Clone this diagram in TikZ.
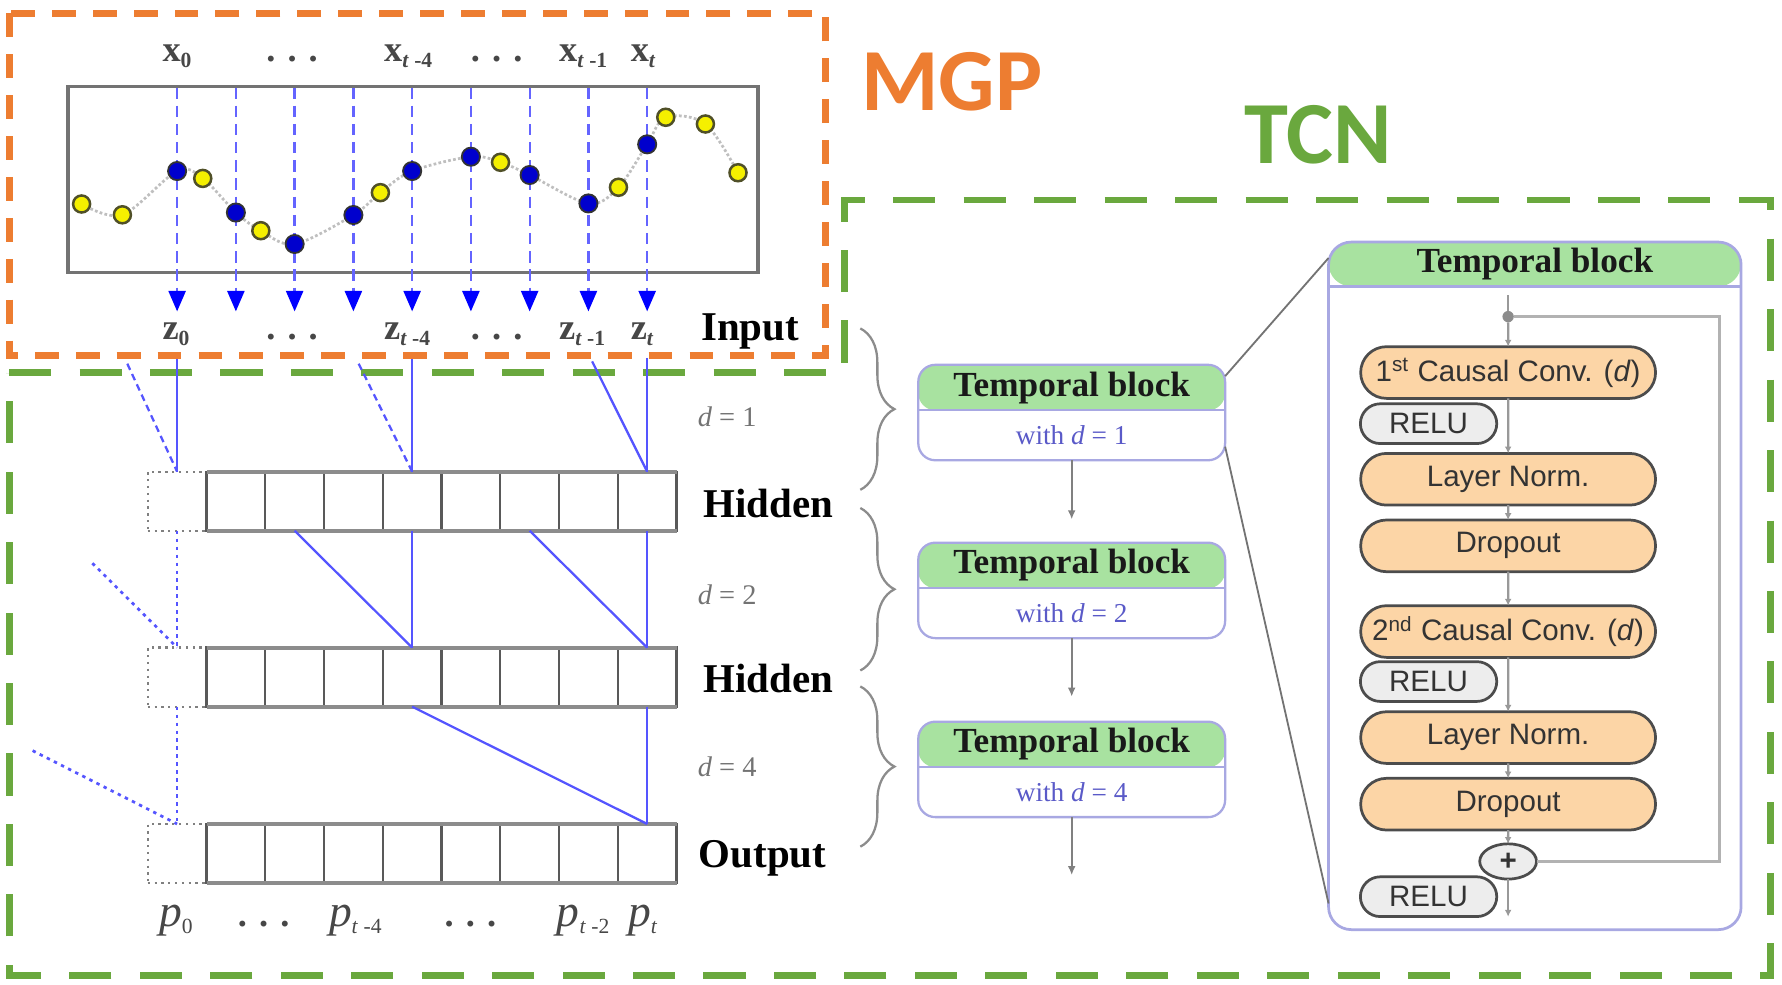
\documentclass[tikz,border=0pt]{standalone}
\usepackage{fontspec}
\setmainfont{Liberation Serif}
\newfontfamily\pillfont{Liberation Sans}
\newfontfamily\bigfont{Carlito}
\usetikzlibrary{arrows.meta,shapes.geometric,shapes.misc,decorations.pathreplacing,calc}
\definecolor{mgporange}{RGB}{237,125,49}
\definecolor{tcngreen}{RGB}{106,168,62}
\definecolor{hdrgreen}{RGB}{168,226,160}
\definecolor{blkborder}{RGB}{168,168,226}
\definecolor{pillfill}{RGB}{252,213,166}
\definecolor{subblue}{RGB}{90,90,200}
\definecolor{linkblue}{RGB}{85,85,255}
\definecolor{dashblue}{RGB}{100,100,255}
\definecolor{ptblue}{RGB}{0,0,205}
\definecolor{ptyellow}{RGB}{245,240,0}
\definecolor{ptedge}{RGB}{80,80,40}
\newcommand{\labsub}[1]{\textsubscript{\fontsize{9.5}{10}\selectfont #1}}
\begin{document}
\begin{tikzpicture}[x=0.5pt,y=-0.5pt,
  every node/.style={inner sep=0pt,outer sep=0pt},
  mgpbox/.style={draw=mgporange,line width=3pt,dash pattern=on 10.5pt off 7.5pt},
  tcnbox/.style={draw=tcngreen,line width=3pt,dash pattern=on 18.5pt off 12.5pt},
  seriesbox/.style={draw=black!55,line width=1.5pt},
  xdash/.style={draw=dashblue,line width=1pt,dash pattern=on 5pt off 3pt,
     -{Triangle[length=9pt,width=7.5pt,color=blue,fill=blue]}},
  curve/.style={draw=black!25,line width=1.2pt,densely dotted},
  ypt/.style={circle,fill=ptyellow,draw=ptedge,line width=1.1pt,minimum size=7.5pt},
  bpt/.style={circle,fill=ptblue,draw=black!80,line width=0.8pt,minimum size=8pt},
  xlab/.style={font=\fontsize{16}{18}\selectfont\bfseries,text=black!72,anchor=base west},
  dotlab/.style={font=\fontsize{16}{18}\selectfont\bfseries,text=black!72,anchor=base},
  layerlab/.style={font=\fontsize{18}{20}\selectfont\bfseries,anchor=base west},
  dlab/.style={font=\fontsize{12.5}{14}\selectfont,text=black!55,anchor=base west},
  plab/.style={font=\fontsize{20}{22}\selectfont,text=black!72,anchor=base west},
  cell/.style={draw=black!65,line width=1pt,minimum width=25.85pt,minimum height=26pt},
  dcell/.style={draw=black!50,line width=1pt,dotted,minimum width=25.85pt,minimum height=26pt},
  rowedge/.style={draw=black!45,line width=1.8pt},
  tline/.style={draw=linkblue,line width=1pt},
  tdash/.style={draw=linkblue,line width=1pt,dash pattern=on 3pt off 2pt},
  tdot/.style={draw=linkblue,line width=1.2pt,dash pattern=on 1.5pt off 2pt},
  bracestyle/.style={decorate,decoration={brace,amplitude=15pt},draw=black!45,line width=1pt},
  tblock/.style={draw=blkborder,line width=1pt,fill=white,rounded corners=7.5pt,
     minimum width=135pt,minimum height=42pt,
     path picture={\fill[hdrgreen] (path picture bounding box.north west) rectangle ([yshift=-20pt]path picture bounding box.north east);}},
  bigblock/.style={draw=blkborder,line width=1.2pt,fill=white,rounded corners=10pt,
     minimum width=181.5pt,minimum height=302.5pt,
     path picture={\fill[hdrgreen] (path picture bounding box.north west) rectangle ([yshift=-19.5pt]path picture bounding box.north east);}},
  hdrtext/.style={font=\fontsize{15.5}{17}\selectfont\bfseries,text=black!90},
  subtext/.style={font=\fontsize{12}{14}\selectfont,text=subblue},
  blockarrow/.style={draw=black!50,line width=1pt,-{Latex[length=4pt,width=3.5pt]}},
  zoomline/.style={draw=black!55,line width=0.8pt},
  pill/.style={rounded rectangle,draw=black!70,line width=1.2pt,fill=pillfill,
     minimum width=129.75pt,minimum height=22.75pt,
     font=\pillfont\fontsize{13}{15}\selectfont,text=black!80},
  relu/.style={rounded rectangle,draw=black!70,line width=1.2pt,fill=black!7,
     minimum width=60pt,minimum height=17.5pt,
     font=\pillfont\fontsize{13}{15}\selectfont,text=black!80},
  flow/.style={draw=black!40,line width=1pt,-{Latex[length=3pt,width=3pt]}},
  plainflow/.style={draw=black!40,line width=1pt},
  skipline/.style={draw=black!30,line width=1.5pt}
]
\useasboundingbox (0,0) rectangle (1568,866);

% TCN dashed frame
\draw[tcnbox] (8,328) -- (743,328) -- (743,176) -- (1558,176) -- (1558,858) -- (8,858) -- cycle;

% MGP series box
\draw[seriesbox] (60,76) rectangle (667,240);
\draw[curve] plot[smooth,tension=0.55] coordinates {(71.8,179.5) (107.7,189) (155.85,150.5) (178.4,157) (207.55,187) (229.5,203) (259.25,214.7) (310.95,189.2) (334.7,169.5) (362.65,150.5) (414.35,137.9) (440.4,142.8) (466.05,154) (517.75,179) (544.2,164.8) (569.45,127) (585.8,103.2) (620.7,109.1) (649.4,152)};
\foreach \i in {0,...,8}{
  \coordinate (xt\i) at ({155.85+51.7*\i},77);
  \coordinate (xb\i) at ({155.85+51.7*\i},274);
  \draw[xdash] (xt\i) -- (xb\i);
}
\foreach \x/\y [count=\k] in {71.8/179.5,107.7/189,178.4/157,229.5/203,334.7/169.5,440.4/142.8,544.2/164.8,585.8/103.2,620.7/109.1,649.4/152}
  \node[ypt] (yp\k) at (\x,\y) {};
\foreach \x/\y [count=\k] in {155.85/150.5,207.55/187,259.25/214.7,310.95/189.2,362.65/150.5,414.35/137.9,466.05/154,517.75/179,569.45/127}
  \node[bpt] (bp\k) at (\x,\y) {};

% x labels
\node[xlab] (lx0) at (143,54.3) {x\labsub{0}};
\node[dotlab] (lxd1) at (257,54.3) {. . .};
\node[xlab] (lx4) at (338,54.3) {x\labsub{\textit{t} -4}};
\node[dotlab] (lxd2) at (437,54.3) {. . .};
\node[xlab] (lx7) at (492,54.3) {x\labsub{\textit{t} -1}};
\node[xlab] (lx8) at (555,54.3) {x\labsub{\textit{t}}};
% z labels
\node[xlab] (lz0) at (143,299) {z\labsub{0}};
\node[dotlab] (lzd1) at (257,299) {. . .};
\node[xlab] (lz4) at (338,299) {z\labsub{\textit{t} -4}};
\node[dotlab] (lzd2) at (437,299) {. . .};
\node[xlab] (lz7) at (492,299) {z\labsub{\textit{t} -1}};
\node[xlab] (lz8) at (555,299) {z\labsub{\textit{t}}};

% layer rows
\foreach \r/\y in {1/441,2/595.8,3/751}{
  \node[dcell] (r\r-0) at (155.85,\y) {};
  \foreach \i in {1,...,8}{
    \node[cell] (r\r-\i) at ({155.85+51.7*\i},\y) {};
  }
  \draw[rowedge] (r\r-1.north west) -- (r\r-8.north east);
  \draw[rowedge] (r\r-1.south west) -- (r\r-8.south east);
}

% d = 1 connections
\coordinate (a0) at (155.85,315);
\coordinate (a0d) at (112,320);
\coordinate (a4) at (362.65,315);
\coordinate (a4d) at (315.6,320);
\coordinate (a8) at (569.45,315);
\coordinate (a8d) at (521,318);
\draw[tline] (a0) -- (r1-0.north);
\draw[tdash] (a0d) -- (r1-0.north);
\draw[tline] (a4) -- (r1-4.north);
\draw[tdash] (a4d) -- (r1-4.north);
\draw[tline] (a8) -- (r1-8.north);
\draw[tline] (a8d) -- (r1-8.north);
% d = 2 connections
\coordinate (b0d) at (81.3,495.6);
\draw[tdot] (r1-0.south) -- (r2-0.north);
\draw[tdot] (b0d) -- (r2-0.north);
\draw[tline] (r1-2.south) -- (r2-4.north);
\draw[tline] (r1-4.south) -- (r2-4.north);
\draw[tline] (r1-6.south) -- (r2-8.north);
\draw[tline] (r1-8.south) -- (r2-8.north);
% d = 4 connections
\coordinate (c0d) at (28.7,660.5);
\draw[tdot] (r2-0.south) -- (r3-0.north);
\draw[tdot] (c0d) -- (r3-0.north);
\draw[tline] (r2-4.south) -- (r3-8.north);
\draw[tline] (r2-8.south) -- (r3-8.north);

% layer labels
\node[layerlab] (linput) at (617,300) {Input};
\node[layerlab] (lhid1) at (619,455) {Hidden};
\node[layerlab] (lhid2) at (619,609) {Hidden};
\node[layerlab] (lout) at (615,763) {Output};
\node[dlab] (ld1) at (614,375.5) {\textit{d} = 1};
\node[dlab] (ld2) at (614,531.5) {\textit{d} = 2};
\node[dlab] (ld4) at (614,683) {\textit{d} = 4};

% p labels
\node[plab] (lp0) at (140,815) {\textit{p}\labsub{0}};
\node[dotlab] (lpd1) at (232,815) {. . .};
\node[plab] (lp3) at (289.5,815) {\textit{p}\labsub{\textit{t} -4}};
\node[dotlab] (lpd2) at (414,815) {. . .};
\node[plab] (lp7) at (490,815) {\textit{p}\labsub{\textit{t} -2}};
\node[plab] (lp8) at (552.6,815) {\textit{p}\labsub{\textit{t}}};

% braces
\coordinate (br1a) at (757,289); \coordinate (br1b) at (757,431);
\coordinate (br2a) at (757,447); \coordinate (br2b) at (757,590);
\coordinate (br3a) at (757,604); \coordinate (br3b) at (757,745);
\draw[bracestyle] (br1a) -- (br1b);
\draw[bracestyle] (br2a) -- (br2b);
\draw[bracestyle] (br3a) -- (br3b);

% temporal blocks (middle column)
\foreach \n/\y/\d in {1/363/1,2/519.5/2,3/677/4}{
  \node[tblock] (tb\n) at (943,\y) {};
  \draw[blkborder,line width=1pt] ([yshift=-20pt]tb\n.north west) -- ([yshift=-20pt]tb\n.north east);
  \node[hdrtext] (tb\n h) at ([yshift=-10pt]tb\n.north) {Temporal block};
  \node[subtext] (tb\n s) at ([yshift=11pt]tb\n.south) {with \textit{d} = \d};
}
\coordinate (tb1o) at (943,457);
\coordinate (tb2o) at (943,613);
\coordinate (tb3o) at (943,770);
\draw[blockarrow] (tb1.south) -- (tb1o);
\draw[blockarrow] (tb2.south) -- (tb2o);
\draw[blockarrow] (tb3.south) -- (tb3o);

% big temporal block
\node[bigblock] (big) at (1350.5,515.5) {};
\draw[blkborder,line width=1pt] ([yshift=-19.5pt]big.north west) -- ([yshift=-19.5pt]big.north east);
\node[hdrtext] (bigh) at ([yshift=-9.75pt]big.north) {Temporal block};
\draw[zoomline] ([yshift=-5pt]tb1.north east) -- ([yshift=-7pt]big.north west);
\draw[zoomline] ([yshift=6pt]tb1.south east) -- ([yshift=11.5pt]big.south west);

% inside big block
\coordinate (bin) at (1327,259.6);
\node[circle,fill=black!45,minimum size=5pt] (sp) at (1327,278.6) {};
\node[pill] (cv1) at (1327,327.8) {1\textsuperscript{st} Causal Conv. (\textit{d})};
\node[relu] (rl1) at (1257,372.8) {RELU};
\node[pill] (ln1) at (1327,421.7) {Layer Norm.};
\node[pill] (dr1) at (1327,480.3) {Dropout};
\node[pill] (cv2) at (1327,555.7) {2\textsuperscript{nd} Causal Conv. (\textit{d})};
\node[relu] (rl2) at (1257,599.7) {RELU};
\node[pill] (ln2) at (1327,649) {Layer Norm.};
\node[pill] (dr2) at (1327,707.6) {Dropout};
\node[relu] (rl3) at (1257,789) {RELU};
\node[ellipse,draw=black!70,line width=1.2pt,fill=black!7,minimum width=25pt,minimum height=15.5pt,
      font=\pillfont\bfseries\fontsize{13}{15}\selectfont,text=black!80] (plus) at (1327,758) {+};
\coordinate (bout) at (1327,806.6);
\coordinate (skc) at (1513,758);
\draw[plainflow] (bin) -- (sp);
\draw[flow] (sp) -- (cv1);
\draw[flow] (cv1) -- (ln1);
\draw[flow] (ln1) -- (dr1);
\draw[flow] (dr1) -- (cv2);
\draw[flow] (cv2) -- (ln2);
\draw[flow] (ln2) -- (dr2);
\draw[flow] (dr2) -- (plus);
\draw[flow] (plus) -- (bout);
\draw[skipline] (sp) -| (skc) -- (plus);

% titles
\node[font=\bigfont\fontsize{39}{40}\selectfont\bfseries,text=mgporange,anchor=base] (mgp) at (837.5,97) {MGP};
\node[font=\bigfont\fontsize{39}{40}\selectfont\bfseries,text=tcngreen,anchor=base] (tcn) at (1160,144) {TCN};

% MGP dashed frame (on top)
\draw[mgpbox] (8,11.7) rectangle (726,313);
\end{tikzpicture}
\end{document}
